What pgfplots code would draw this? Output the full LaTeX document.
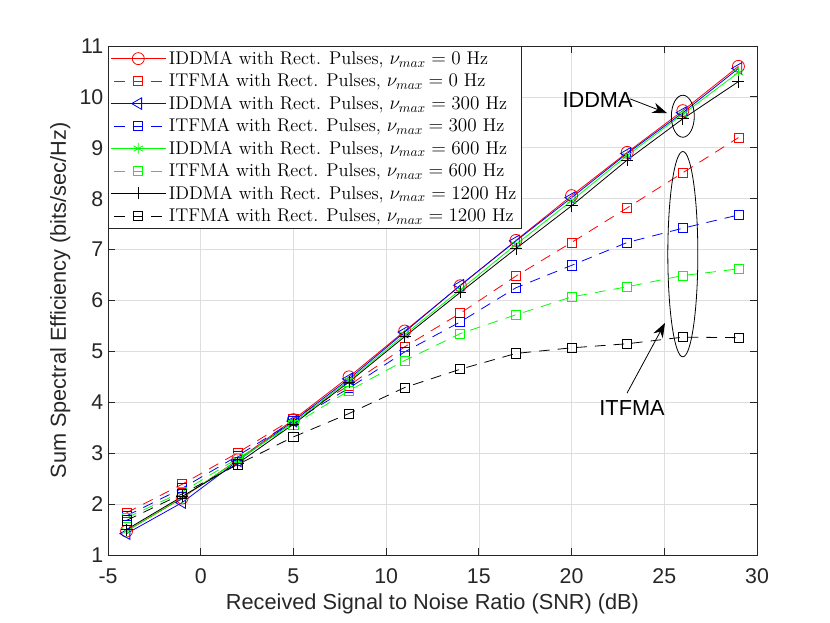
\documentclass[border=0pt]{standalone}
\usepackage{fontspec}
\newfontfamily\arialf{Liberation Sans}
\usepackage{pgfplots}
\pgfplotsset{compat=1.18}
\usetikzlibrary{arrows.meta}
\definecolor{axgray}{rgb}{0.15,0.15,0.15}
\definecolor{gridgray}{rgb}{0.87,0.87,0.87}
\begin{document}
\begin{tikzpicture}
\begin{axis}[
  at={(0,0)}, anchor=south west, scale only axis,
  width=486.75pt, height=381.75pt,
  xmin=-5, xmax=30, ymin=1, ymax=11,
  xtick={-5,0,...,30}, ytick={1,2,...,11},
  tick align=inside, major tick length=5pt,
  grid=major, major grid style={gridgray, line width=0.5pt},
  axis line style={axgray, line width=0.6pt},
  tick style={axgray, line width=0.6pt},
  /pgf/number format/assume math mode=true,
  ticklabel style={font=\arialf\fontsize{16}{19}\selectfont, text=axgray},
  xticklabel style={yshift=-7pt},
  yticklabel style={xshift=0pt},
  xlabel={\arialf\fontsize{16.3}{19}\selectfont Received Signal to Noise Ratio (SNR) (dB)},
  ylabel={\arialf\fontsize{16.3}{19}\selectfont Sum Spectral Efficiency (bits/sec/Hz)},
  xlabel style={text=axgray, yshift=0pt},
  ylabel style={text=axgray, yshift=0pt},
  legend cell align=left,
  legend style={font=\fontsize{13.8}{16}\selectfont, draw=axgray, line width=0.6pt,
    at={(0,1)}, anchor=north west, inner sep=1.5pt, row sep=1.5pt,
    /tikz/every even column/.append style={column sep=4pt}},
  legend image code/.code={
    \draw[#1, dash phase=11.5pt] (0cm,0cm) -- (1.45cm,0cm);
    \draw[#1] plot coordinates {(0.725cm,0cm)};
  },
  every axis plot/.append style={line width=0.6pt},
]
\addplot[red, mark=o, mark size=4.5pt, mark options={solid}] coordinates {
(-4,1.47) (-1,2.12) (2,2.87) (5,3.66) (8,4.5) (11,5.4) (14,6.29) (17,7.18) (20,8.06) (23,8.91) (26,9.73) (29,10.6)};
\addlegendentry{IDDMA with Rect. Pulses, $\nu_{max}=0$ Hz}
\addplot[red, dash pattern=on 8pt off 6pt, mark=square, mark size=3.4pt, mark options={solid}] coordinates {
(-4,1.83) (-1,2.39) (2,3.01) (5,3.68) (8,4.33) (11,5.09) (14,5.75) (17,6.48) (20,7.14) (23,7.82) (26,8.51) (29,9.2)};
\addlegendentry{ITFMA with Rect. Pulses, $\nu_{max}=0$ Hz}
\addplot[blue, mark=triangle, mark size=5pt, mark options={solid, rotate=90}] coordinates {
(-4,1.42) (-1,2.03) (2,2.85) (5,3.63) (8,4.46) (11,5.38) (14,6.3) (17,7.17) (20,8.02) (23,8.89) (26,9.69) (29,10.56)};
\addlegendentry{IDDMA with Rect. Pulses, $\nu_{max}=300$ Hz}
\addplot[blue, dash pattern=on 8pt off 6pt, mark=square, mark size=3.4pt, mark options={solid}] coordinates {
(-4,1.77) (-1,2.31) (2,2.95) (5,3.63) (8,4.28) (11,4.99) (14,5.58) (17,6.25) (20,6.69) (23,7.14) (26,7.42) (29,7.68)};
\addlegendentry{ITFMA with Rect. Pulses, $\nu_{max}=300$ Hz}
\addplot[green, mark=asterisk, mark size=4pt, mark options={solid}] coordinates {
(-4,1.47) (-1,2.13) (2,2.86) (5,3.6) (8,4.43) (11,5.33) (14,6.21) (17,7.1) (20,7.96) (23,8.85) (26,9.66) (29,10.48)};
\addlegendentry{IDDMA with Rect. Pulses, $\nu_{max}=600$ Hz}
\addplot[green, dash pattern=on 8pt off 6pt, mark=square, mark size=3.4pt, mark options={solid}] coordinates {
(-4,1.73) (-1,2.24) (2,2.9) (5,3.56) (8,4.23) (11,4.82) (14,5.35) (17,5.72) (20,6.07) (23,6.27) (26,6.49) (29,6.62)};
\addlegendentry{ITFMA with Rect. Pulses, $\nu_{max}=600$ Hz}
\addplot[black, mark=+, mark size=4.5pt, mark options={solid}] coordinates {
(-4,1.5) (-1,2.15) (2,2.8) (5,3.57) (8,4.4) (11,5.29) (14,6.16) (17,7.02) (20,7.86) (23,8.76) (26,9.57) (29,10.3)};
\addlegendentry{IDDMA with Rect. Pulses, $\nu_{max}=1200$ Hz}
\addplot[black, dash pattern=on 8pt off 6pt, mark=square, mark size=3.4pt, mark options={solid}] coordinates {
(-4,1.68) (-1,2.2) (2,2.78) (5,3.32) (8,3.78) (11,4.29) (14,4.65) (17,4.96) (20,5.07) (23,5.15) (26,5.28) (29,5.27)};
\addlegendentry{ITFMA with Rect. Pulses, $\nu_{max}=1200$ Hz}
% annotations
\draw[black, line width=0.6pt] (axis cs:26,9.62) ellipse [x radius=8.6pt, y radius=15.75pt];
\draw[black, line width=0.6pt] (axis cs:26,6.91) ellipse [x radius=11.25pt, y radius=77pt];
\draw[black, line width=0.6pt, -{Stealth[length=11pt,width=8pt]}] (axis cs:23.16,9.96) -- (axis cs:25.15,9.68);
\draw[black, line width=0.6pt, -{Stealth[length=11pt,width=8pt]}] (axis cs:22.99,4.18) -- (axis cs:25.04,5.56);
\node[font=\arialf\fontsize{16.3}{19}\selectfont, inner sep=0pt] at (axis cs:21.4,9.94) {IDDMA};
\node[font=\arialf\fontsize{16.3}{19}\selectfont, inner sep=0pt] at (axis cs:23.26,3.89) {ITFMA};
\end{axis}
\path[use as bounding box] (-81pt,-51pt) rectangle (541.5pt,416.25pt);
\end{tikzpicture}
\end{document}
